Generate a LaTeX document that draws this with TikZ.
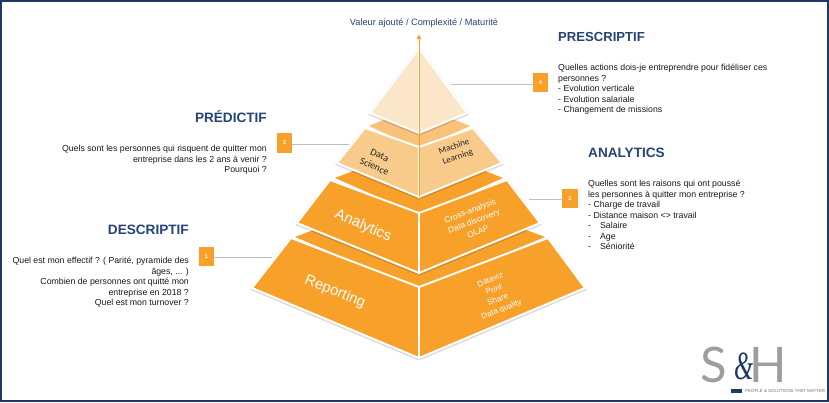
\documentclass[tikz,border=0pt]{standalone}
\usepackage{fontspec}
\usetikzlibrary{arrows.meta}
\setmainfont{Liberation Sans}
\newfontfamily\carl{Carlito}
\newfontfamily\lato{Lato}
\newfontfamily\serifit{Liberation Serif}
\definecolor{navy}{HTML}{1F3864}
\definecolor{titleblue}{HTML}{264478}
\definecolor{orA}{HTML}{F7A12B}
\definecolor{orB}{HTML}{F9CB8A}
\definecolor{orC}{HTML}{FCE6CA}
\definecolor{orD}{HTML}{F8C27A}
\definecolor{leader}{HTML}{BFBFBF}
\tikzset{
  x=1pt,y=-1pt,
  face/.style={draw=white,line width=1.9pt,line join=miter,fill=#1},
  halo/.style={draw=black,opacity=.14,line width=3.2pt,line join=round,yshift=-.9pt},
  badge/.style={fill=orA,minimum width=15.5pt,minimum height=19.5pt,inner sep=0pt,text=white,font=\fontsize{5.5}{6}\selectfont\bfseries},
  lead/.style={draw=leader,line width=.8pt},
  heading/.style={text=titleblue,font=\fontsize{13.6}{15}\selectfont\bfseries,inner sep=0pt},
  body/.style={font=\fontsize{8.75}{10.5}\selectfont,inner sep=0pt,text=black!90},
  onface/.style={text=white,inner sep=0pt,align=center},
}
\begin{document}
\begin{tikzpicture}
\useasboundingbox (0,0) rectangle (829,402);
\fill[white] (0,0) rectangle (829,402);
% frame
\draw[navy,line width=2.4pt] (1,1) rectangle (828,401);
% level 4 (Reporting)
\fill[orA] (295,237) -- (419,190) -- (545,237) -- (419,289) -- cycle;
\draw[halo] (291,238) -- (252,288) -- (419,358) -- (585,288) -- (548,238);
\draw[face=orA] (291,238) -- (419,287) -- (419,358) -- (252,288) -- cycle;
\draw[face=orA] (548,238) -- (419,287) -- (419,358) -- (585,288) -- cycle;
% level 3 (Analytics)
\fill[orA] (335,178) -- (419,145) -- (503,178) -- (419,215) -- cycle;
\draw[halo] (330,180) -- (297,223) -- (419,273) -- (540,223) -- (507,180);
\draw[face=orA] (330,180) -- (419,213) -- (419,273) -- (297,223) -- cycle;
\draw[face=orA] (507,180) -- (419,213) -- (419,273) -- (540,223) -- cycle;
% level 2 (Data Science)
\fill[orD] (369,126) -- (419,105) -- (470,126) -- (419,149) -- cycle;
\draw[halo] (365,128) -- (337,163) -- (419,197) -- (502,163) -- (473,128);
\draw[face=orB] (365,128) -- (419,147) -- (419,197) -- (337,163) -- cycle;
\draw[face=orB] (473,128) -- (419,147) -- (419,197) -- (502,163) -- cycle;
% top
\draw[halo] (419,48) -- (370,113) -- (419,133) -- (467,113) -- cycle;
\draw[face=orC] (419,48) -- (419,133) -- (370,113) -- cycle;
\draw[face=orC] (419,48) -- (419,133) -- (467,113) -- cycle;
% axis
\coordinate (axisfoot) at (419,197);
\coordinate (axishead) at (419,34);
\draw[orA,line width=.9pt,-{Latex[length=5pt,width=5pt]}] (axisfoot) -- (axishead);
\node[text=titleblue,font=\fontsize{9.2}{10}\selectfont,inner sep=0pt] (axislabel) at (424,23.5) {Valeur ajouté / Complexité / Maturité};
% face labels
\node[onface,rotate=-21.5,font=\fontsize{14.7}{16}\selectfont] (rep) at (335,292) {Reporting};
\node[onface,rotate=-23.5,font=\fontsize{15}{16}\selectfont] (ana) at (363,226) {Analytics};
\node[onface,rotate=21,font=\fontsize{8}{10.5}\selectfont] (repr) at (496,295) {Dataviz\\Print\\Share\\Data quality};
\node[onface,rotate=21,font=\fontsize{8.3}{11}\selectfont] (anar) at (474,221) {Cross-analysis\\Data discovery\\OLAP};
\node[onface,text=black!85,rotate=-24,font=\carl\fontsize{10}{12.5}\selectfont] (ds) at (377,161) {Data\\Science};
\node[onface,text=black!85,rotate=20,font=\carl\fontsize{9}{11}\selectfont] (ml) at (456,152) {Machine\\Learning};
% badges and leaders
\node[badge] (b1) at (206.5,256.5) {1};
\node[badge] (b2) at (570,198.5) {2};
\node[badge] (b3) at (284.5,143) {3};
\node[badge] (b4) at (540.5,82.5) {4};
\coordinate (e1) at (272,257);
\coordinate (e2) at (529,199);
\coordinate (e3) at (349,144);
\coordinate (e4) at (451,84);
\draw[lead] (b1.east |- e1) -- (e1);
\draw[lead] (b2.west |- e2) -- (e2);
\draw[lead] (b3.east |- e3) -- (e3);
\draw[lead] (b4.west |- e4) -- (e4);
% headings
\node[heading,anchor=west,font=\fontsize{13.1}{15}\selectfont\bfseries] (hpres) at (558,37) {PRESCRIPTIF};
\node[heading,anchor=west] (hana) at (588,153) {ANALYTICS};
\node[heading,anchor=east] (hpred) at (267,117) {PRÉDICTIF};
\node[heading,anchor=east] (hdesc) at (189,230) {DESCRIPTIF};
% bodies
\node[body,anchor=north west,align=left] (tpres) at (558,64) {Quelles actions dois-je entreprendre pour fidéliser ces\\personnes ?\\- Evolution verticale\\- Evolution salariale\\- Changement de missions};
\node[body,anchor=north west,align=left] (tana) at (588,180) {Quelles sont les raisons qui ont poussé\\les personnes à quitter mon entreprise ?\\- Charge de travail\\- Distance maison <> travail\\-\hspace{9pt}Salaire\\-\hspace{9pt}Age\\-\hspace{9pt}Séniorité};
\node[body,anchor=north east,align=right] (tpred) at (267,145) {Quels sont les personnes qui risquent de quitter mon\\entreprise dans les 2 ans à venir ?\\Pourquoi ?};
\node[body,anchor=north east,align=right] (tdesc) at (189,257) {Quel est mon effectif ? ( Parité, pyramide des\\âges, ... )\\Combien de personnes ont quitté mon\\entreprise en 2018 ?\\Quel est mon turnover ?};
% logo
\node[text=black!38,font=\fontsize{49}{49}\selectfont\lato,inner sep=0pt,anchor=center] (logoS) at (714,364.5) {S};
\node[text=navy,xscale=.62,font=\fontsize{40}{40}\selectfont\serifit\itshape,inner sep=0pt] (logoA) at (744,366) {\&};
\node[text=black!38,font=\fontsize{49}{49}\selectfont\lato,inner sep=0pt] (logoH) at (768,364.5) {H};
\fill[navy] (731,389) rectangle (742,393);
\node[text=black!55,font=\fontsize{4.4}{5}\selectfont,inner sep=0pt,anchor=west] (slogan) at (745,391) {PEOPLE \& SOLUTIONS THAT MATTER};
\end{tikzpicture}
\end{document}
